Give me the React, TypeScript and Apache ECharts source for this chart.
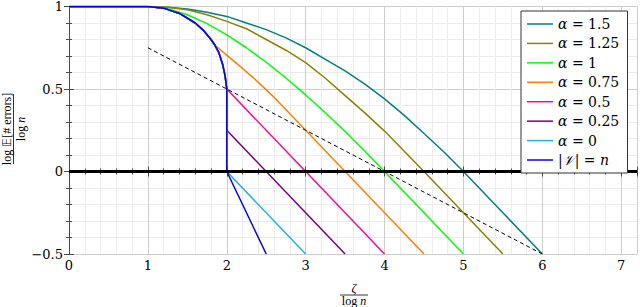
import React, { useEffect, useRef } from "react";
import * as echarts from "echarts";

// ---- data ----
const seriesNames = ["α = 1.5", "α = 1.25", "α = 1", "α = 0.75", "α = 0.5", "α = 0.25", "α = 0", "|𝒱| = n"];
const seriesColors = ["#008080", "#8c8200", "#00ff00", "#ff8000", "#ff0a8c", "#800080", "#1eb0f0", "#0000ff"];

const alpha150 = [[0, 1], [1, 1], [1.25, 0.996], [1.5, 0.985], [1.75, 0.965], [2, 0.94], [2.25, 0.9], [2.5, 0.86], [2.75, 0.81], [3, 0.75], [3.25, 0.68], [3.5, 0.61], [3.75, 0.53], [4, 0.44], [4.25, 0.34], [4.5, 0.23], [4.75, 0.12], [5, 0], [5.5, -0.25], [6, -0.5]];
const alpha125 = [[0, 1], [1, 1], [1.25, 0.995], [1.5, 0.98], [1.75, 0.95], [2, 0.91], [2.25, 0.865], [2.5, 0.8], [2.75, 0.735], [3, 0.66], [3.25, 0.565], [3.5, 0.46], [3.75, 0.355], [4, 0.245], [4.5, 0], [5, -0.25], [5.5, -0.5]];
const alpha100 = [[0, 1], [1, 1], [1.25, 0.986], [1.5, 0.95], [1.75, 0.896], [2, 0.828], [2.25, 0.75], [2.5, 0.662], [2.75, 0.567], [3, 0.464], [3.25, 0.356], [3.5, 0.242], [3.75, 0.123], [4, 0], [4.5, -0.25], [5, -0.5]];
const envelopeHead = [[0, 1], [1, 1], [1.2, 0.99], [1.4, 0.958], [1.6, 0.9], [1.7, 0.857], [1.8, 0.8], [1.85, 0.765]];
const envelopeTail = [[1.9, 0.72], [1.95, 0.645], [1.98, 0.575], [2, 0.5]];
const alpha075Tail = [[2, 0.705], [2.2, 0.625], [2.4, 0.54], [2.6, 0.45], [3, 0.25], [3.5, 0], [4, -0.25], [4.5, -0.5]];
const alpha050Tail = [[3, 0], [4, -0.5]];
const alpha025Tail = [[2, 0.25], [2.5, 0], [3.5, -0.5]];
const alpha000Tail = [[2, 0], [3, -0.5]];
const fullVTail = [[2, 0], [2.5, -0.5]];
const dashedLine = [[1, 0.75], [6, -0.5]];
const zeroLine = [[0, 0], [7.2, 0]];

const xMin = 0, xMax = 7.2, xMajor = 1, xMinor = 0.2;
const yMin = -0.5, yMax = 1, yMajor = 0.5, yMinor = 0.1;

const curves = [
  alpha150,
  alpha125,
  alpha100,
  [...envelopeHead, ...alpha075Tail],
  [...envelopeHead, ...envelopeTail, ...alpha050Tail],
  [...envelopeHead, ...envelopeTail, ...alpha025Tail],
  [...envelopeHead, ...envelopeTail, ...alpha000Tail],
  [...envelopeHead, ...envelopeTail, ...fullVTail],
];

const TICK_FONT = "DejaVu Serif";
const TITLE_FONT = "Liberation Serif";
const FRAME = "#4a4a4a";

function minorAxis(kind: "x" | "y", pos: string, split: boolean, line: boolean) {
  return {
    type: "value",
    position: pos,
    min: kind === "x" ? xMin : yMin,
    max: kind === "x" ? xMax : yMax,
    interval: kind === "x" ? xMinor : yMinor,
    axisLine: { show: line, lineStyle: { color: FRAME, width: 1 } },
    axisTick: { show: true, inside: true, length: 3, lineStyle: { color: FRAME, width: 1 } },
    axisLabel: { show: false },
    splitLine: { show: split, lineStyle: { color: "#ececec", width: 1 } },
  };
}
function majorAxis(kind: "x" | "y", pos: string, main: boolean) {
  return {
    type: "value",
    position: pos,
    min: kind === "x" ? xMin : yMin,
    max: kind === "x" ? xMax : yMax,
    interval: kind === "x" ? xMajor : yMajor,
    axisLine: { show: main, lineStyle: { color: FRAME, width: 1 } },
    axisTick: { show: true, inside: true, length: 5, lineStyle: { color: FRAME, width: 1 } },
    axisLabel: main
      ? {
          show: true,
          fontFamily: TICK_FONT,
          fontSize: 13,
          color: "#000",
          margin: kind === "x" ? 5 : 6,
          formatter: (v: number) => {
            if (kind === "x") return Math.abs(v - Math.round(v)) < 1e-6 ? String(Math.round(v)) : "";
            const r = Math.round(v * 10) / 10;
            return r < 0 ? "\u2212" + String(Math.abs(r)) : String(r);
          },
        }
      : { show: false },
    splitLine: { show: main, lineStyle: { color: "#cdcdcd", width: 1 } },
  };
}

function legendGraphic() {
  const left = 521, top = 11, width = 106.5, height = 162;
  const rowTop = 24, rowStep = 19.43;
  const children: any[] = [
    {
      type: "rect",
      shape: { x: left, y: top, width, height },
      style: { fill: "#fff", stroke: "#333", lineWidth: 1 },
      z: 10,
    },
  ];
  seriesNames.forEach((name, i) => {
    const y = rowTop + i * rowStep;
    children.push({
      type: "line",
      shape: { x1: left + 6, y1: y, x2: left + 32, y2: y },
      style: { stroke: seriesColors[i], lineWidth: 1.5 },
      z: 11,
    });
    const txt = name.startsWith("α") ? "{i|α}{r|" + name.slice(1) + "}" : "{r||}{i|𝒱}{r|| = }{i|n}";
    children.push({
      type: "text",
      x: left + 37,
      y,
      z: 11,
      style: {
        text: txt,
        verticalAlign: "middle",
        align: "left",
        rich: {
          r: { fontFamily: TICK_FONT, fontSize: 14, lineHeight: 15, fill: "#000" },
          i: { fontFamily: TICK_FONT, fontStyle: "italic", fontSize: 14, lineHeight: 15, fill: "#000" },
        },
      },
    });
  });
  return children;
}

export default function App() {
  const ref = useRef<HTMLDivElement>(null);
  useEffect(() => {
    if (!ref.current) return;
    const chart = echarts.init(ref.current, undefined, { renderer: "svg" });
    const series: any[] = curves.map((d, i) => ({
      name: seriesNames[i],
      type: "line",
      xAxisIndex: 1,
      yAxisIndex: 1,
      data: d,
      symbol: "none",
      smooth: false,
      lineStyle: { color: seriesColors[i], width: 1.5 },
      itemStyle: { color: seriesColors[i] },
      z: 3,
    }));
    series.push({
      name: "zero",
      type: "line",
      xAxisIndex: 1,
      yAxisIndex: 1,
      data: zeroLine,
      symbol: "none",
      lineStyle: { color: "#000", width: 3 },
      z: 4,
    });
    series.push({
      name: "dashed",
      type: "line",
      xAxisIndex: 1,
      yAxisIndex: 1,
      data: dashedLine,
      symbol: "none",
      lineStyle: { color: "#000", width: 1, type: [4, 3] },
      z: 4,
    });
    const rich12 = {
      r: { fontFamily: TITLE_FONT, fontSize: 12, lineHeight: 12, fill: "#000" },
      i: { fontFamily: TITLE_FONT, fontStyle: "italic", fontSize: 12, lineHeight: 12, fill: "#000" },
    };
    chart.setOption({
      animation: false,
      grid: { left: 69, top: 5.7, right: 1.7, bottom: 53 },
      xAxis: [
        minorAxis("x", "bottom", true, false),
        majorAxis("x", "bottom", true),
        minorAxis("x", "top", false, true),
        majorAxis("x", "top", false),
      ],
      yAxis: [
        minorAxis("y", "left", true, false),
        majorAxis("y", "left", true),
        minorAxis("y", "right", false, true),
        majorAxis("y", "right", false),
      ],
      graphic: [
        ...legendGraphic(),
        {
          type: "text",
          x: 354,
          y: 288,
          style: { text: "{i|ζ}", align: "center", verticalAlign: "middle", rich: rich12 },
        },
        { type: "line", shape: { x1: 340, y1: 295, x2: 368, y2: 295 }, style: { stroke: "#000", lineWidth: 0.8 } },
        {
          type: "text",
          x: 354,
          y: 301,
          style: { text: "{r|log }{i|n}", align: "center", verticalAlign: "middle", rich: rich12 },
        },
        {
          type: "group",
          x: 13.5,
          y: 129,
          rotation: Math.PI / 2,
          children: [
            {
              type: "text",
              x: 0,
              y: -7,
              style: { text: "{r|log 𝔼[# errors]}", align: "center", verticalAlign: "middle", rich: rich12 },
            },
            { type: "line", shape: { x1: -35, y1: 0, x2: 35, y2: 0 }, style: { stroke: "#000", lineWidth: 0.8 } },
            {
              type: "text",
              x: 0,
              y: 7,
              style: { text: "{r|log }{i|n}", align: "center", verticalAlign: "middle", rich: rich12 },
            },
          ],
        },
      ],
      series,
    });
    return () => chart.dispose();
  }, []);
  return <div ref={ref} style={{ width: 640, height: 307, position: "absolute", left: 0, top: 0 }} />;
}
